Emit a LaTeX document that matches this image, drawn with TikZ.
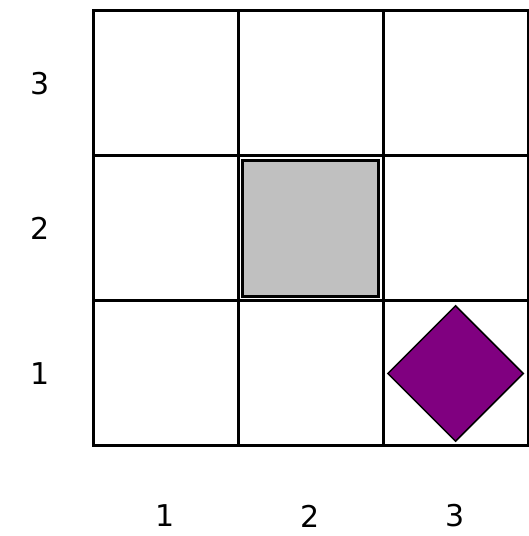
\documentclass[tikz,border=0pt]{standalone}
\usepackage{fontspec}
\setmainfont{DejaVu Sans}
\usetikzlibrary{shapes.geometric}
\definecolor{BlockGray}{HTML}{C0C0C0}
\definecolor{GoalPurple}{HTML}{800080}
\tikzset{
  cell/.style={draw=black,line width=3pt,minimum size=145pt,inner sep=0pt,outer sep=0pt},
  blockbox/.style={draw=black,fill=BlockGray,line width=2.4pt,minimum size=136pt,inner sep=0pt},
  goal/.style={diamond,draw=black,fill=GoalPurple,line width=1.5pt,minimum size=136pt,inner sep=0pt},
  axislabel/.style={font=\fontsize{30}{36}\selectfont,inner sep=0pt}
}
\begin{document}
\begin{tikzpicture}[x=1pt,y=1pt]
\useasboundingbox (0,0) rectangle (528,536);
% grid of cells, (c-col-row)
\foreach \i in {1,2,3}{
  \foreach \j in {1,2,3}{
    \node[cell] (c-\i-\j) at ({93+145*(\i-0.5)},{90+145*(\j-0.5)}) {};
  }
}
% axis numbers
\foreach \i in {1,2,3}{
  \node[axislabel] (col\i) at ({93+145*(\i-0.5)},20) {\i};
  \node[axislabel] (row\i) at (40,{90+145*(\i-0.5)}) {\i};
}
% obstacle and goal
\node[blockbox] (block) at (c-2-2) {};
\node[goal] (target) at (c-3-1) {};
\end{tikzpicture}
\end{document}
